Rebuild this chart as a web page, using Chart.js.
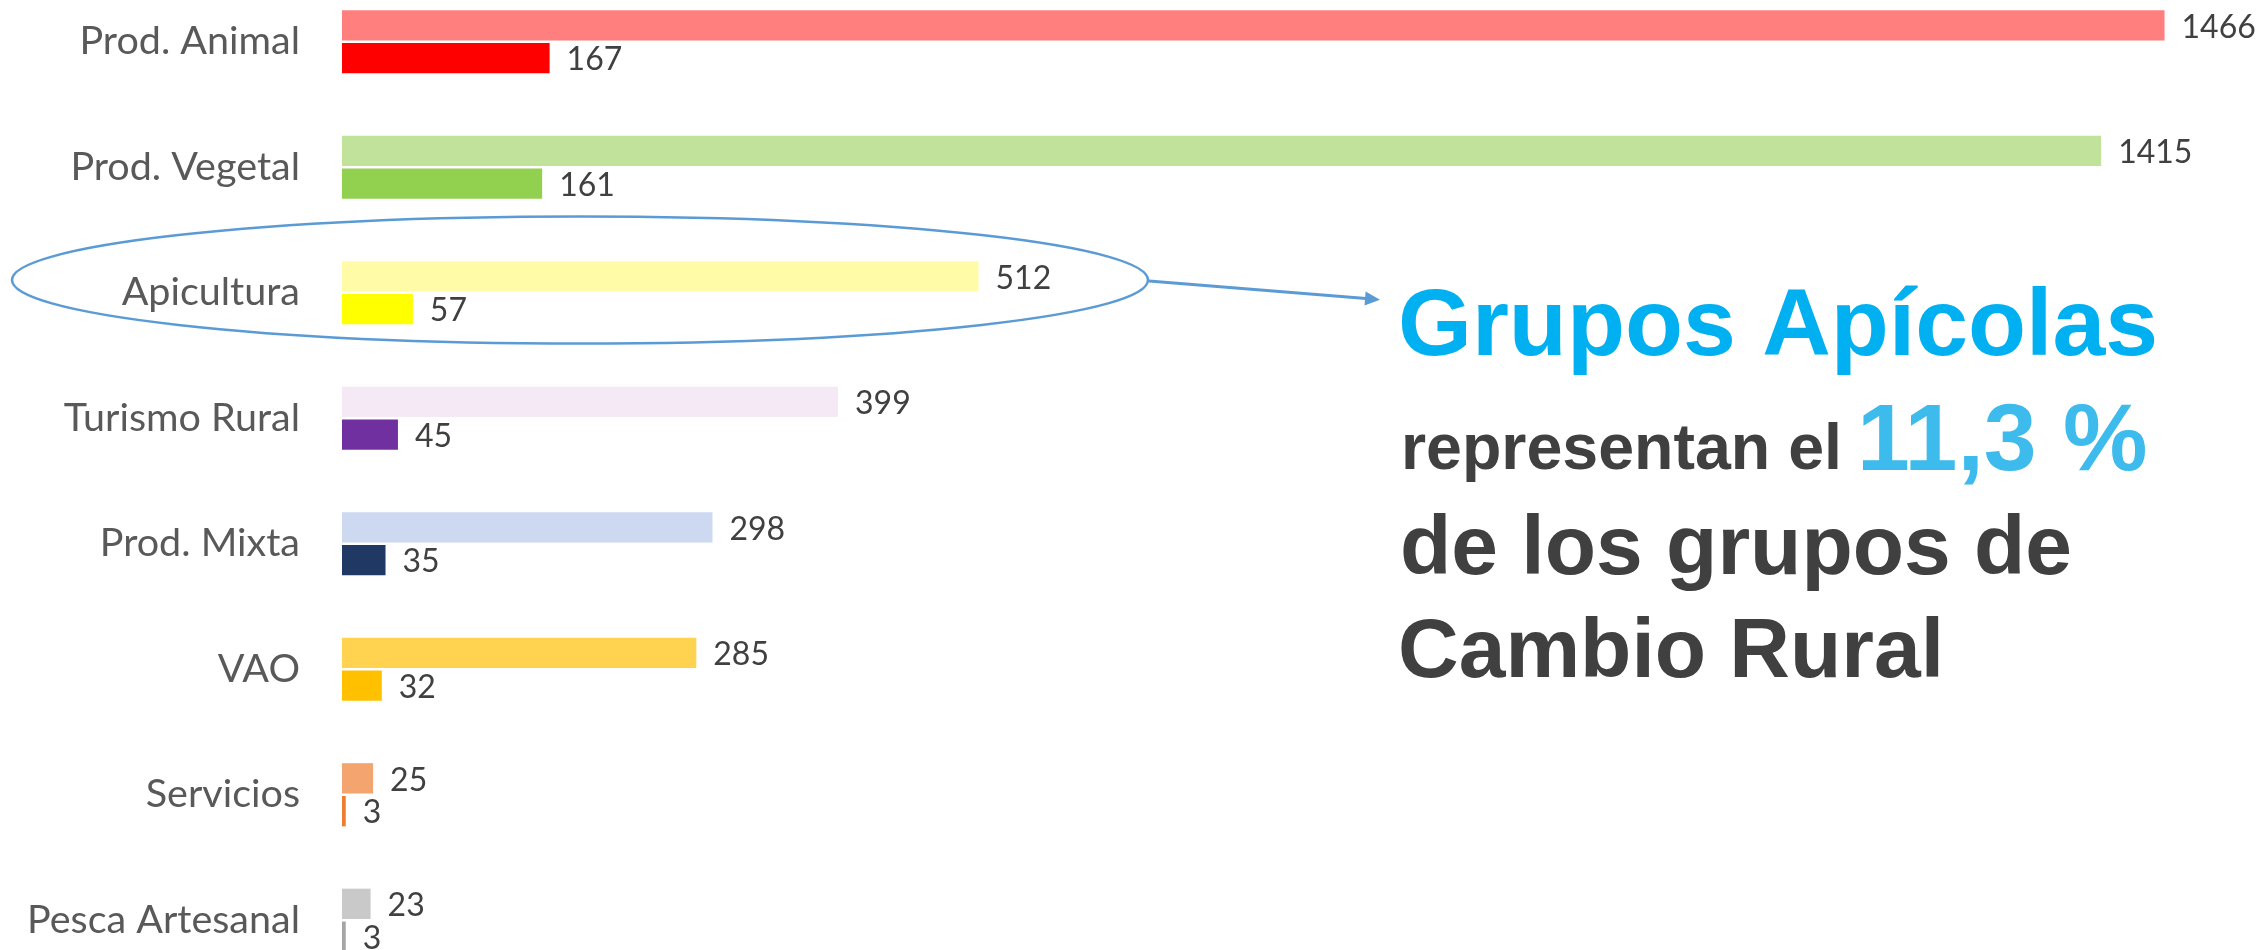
<!DOCTYPE html>
<html>
<head>
<meta charset="utf-8">
<script src="https://cdn.jsdelivr.net/npm/chart.js@4"></script>
<style>
  html, body { margin: 0; padding: 0; background: #fff; overflow: hidden; width: 2264px; height: 950px; }
  #wrap { position: absolute; left: 0; top: -21px; width: 2264px; height: 1004px; }
</style>
</head>
<body>
<div id="wrap"><canvas id="myChart"></canvas></div>
<script>
const categories = ['Prod. Animal', 'Prod. Vegetal', 'Apicultura', 'Turismo Rural', 'Prod. Mixta', 'VAO', 'Servicios', 'Pesca Artesanal'];
const participantes = [1466, 1415, 512, 399, 298, 285, 25, 23];
const grupos = [167, 161, 57, 45, 35, 32, 3, 3];
const coloresClaros = ['#FF7F7F', '#C0E29B', '#FFFBA7', '#F4E9F4', '#CCD9F0', '#FFD34F', '#F4A46F', '#C9C9C9'];
const coloresOscuros = ['#FF0000', '#92D050', '#FFFF00', '#7030A0', '#203864', '#FFC000', '#ED7D31', '#A5A5A5'];

const OFFSET = 21; // el canvas empieza 21px por encima de la página

// números al final de cada barra
const valueLabels = {
  id: 'valueLabels',
  afterDatasetsDraw(chart) {
    const ctx = chart.ctx;
    ctx.save();
    ctx.font = '32px Lato';
    ctx.fillStyle = '#404040';
    ctx.textAlign = 'left';
    ctx.textBaseline = 'middle';
    chart.data.datasets.forEach((ds, i) => {
      chart.getDatasetMeta(i).data.forEach((bar, j) => {
        ctx.fillText(ds.data[j], bar.x + 17, bar.y + 2);
      });
    });
    ctx.restore();
  }
};

// elipse, flecha y texto de la derecha
const callout = {
  id: 'callout',
  afterDraw(chart) {
    const ctx = chart.ctx;
    ctx.save();
    ctx.translate(0, OFFSET);

    ctx.strokeStyle = '#5B9BD5';
    ctx.lineWidth = 2.5;
    ctx.beginPath();
    ctx.ellipse(580, 280, 568, 63.5, 0, 0, Math.PI * 2);
    ctx.stroke();

    const x1 = 1149, y1 = 281, x2 = 1380, y2 = 299.7;
    const ang = Math.atan2(y2 - y1, x2 - x1);
    ctx.lineWidth = 3;
    ctx.beginPath();
    ctx.moveTo(x1, y1);
    ctx.lineTo(x2 - 14 * Math.cos(ang), y2 - 14 * Math.sin(ang));
    ctx.stroke();
    ctx.fillStyle = '#5B9BD5';
    ctx.beginPath();
    ctx.moveTo(x2, y2);
    ctx.lineTo(x2 - 15 * Math.cos(ang) + 7 * Math.sin(ang), y2 - 15 * Math.sin(ang) - 7 * Math.cos(ang));
    ctx.lineTo(x2 - 15 * Math.cos(ang) - 7 * Math.sin(ang), y2 - 15 * Math.sin(ang) + 7 * Math.cos(ang));
    ctx.closePath();
    ctx.fill();

    ctx.textAlign = 'left';
    ctx.textBaseline = 'alphabetic';
    ctx.fillStyle = '#00B0F0';
    ctx.font = "bold 95px 'Liberation Sans'";
    ctx.fillText('Grupos Apícolas', 1398, 355);
    ctx.fillStyle = '#404040';
    ctx.font = "bold 64.5px 'Liberation Sans'";
    ctx.fillText('representan el', 1401, 469);
    ctx.fillStyle = '#3DBBEC';
    ctx.font = "bold 95px 'Liberation Sans'";
    ctx.fillText('11,3 %', 1857, 470);
    ctx.fillStyle = '#404040';
    ctx.font = "bold 84px 'Liberation Sans'";
    ctx.fillText('de los grupos de', 1400, 574);
    ctx.fillText('Cambio Rural', 1398, 677);
    ctx.restore();
  }
};

const ctx = document.getElementById('myChart').getContext('2d');
const barChart = new Chart(ctx, {
  type: 'bar',
  data: {
    labels: categories,
    datasets: [{
      label: 'Participantes',
      data: participantes,
      backgroundColor: coloresClaros,
      borderWidth: 0,
      barPercentage: 0.925,
      categoryPercentage: 0.523
    }, {
      label: 'Grupos',
      data: grupos,
      backgroundColor: coloresOscuros,
      borderWidth: 0,
      barPercentage: 0.925,
      categoryPercentage: 0.523
    }]
  },
  options: {
    indexAxis: 'y',
    responsive: true,
    maintainAspectRatio: false,
    animation: false,
    layout: { padding: 0 },
    plugins: {
      legend: { display: false },
      tooltip: { enabled: false }
    },
    scales: {
      x: { display: false, min: 0, max: 1546 },
      y: {
        grid: { display: false, drawTicks: false },
        border: { display: false },
        ticks: { padding: 42, color: '#595959', font: { family: 'Lato', size: 39.5 } },
        afterFit(scale) {
          scale.width = 342;
          scale.paddingTop = 0;
          scale.paddingBottom = 0;
        }
      }
    }
  },
  plugins: [valueLabels, callout]
});
</script>
</body>
</html>
